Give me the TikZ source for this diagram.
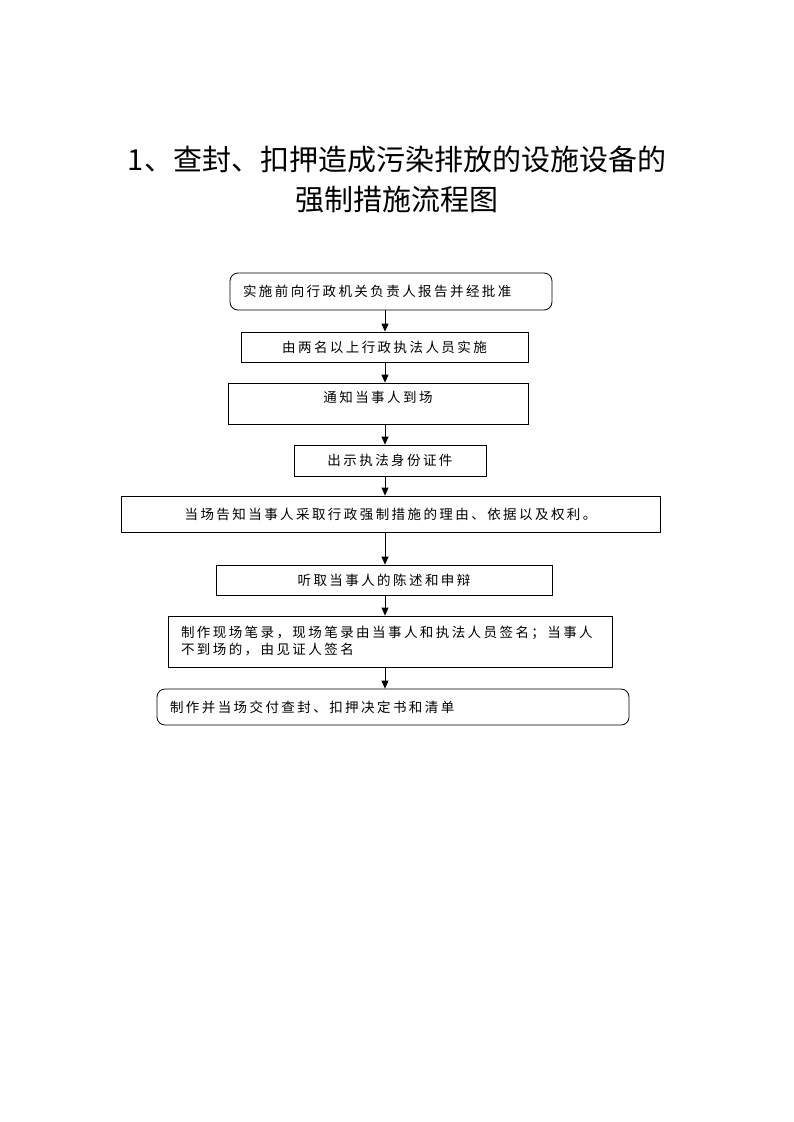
\documentclass[tikz,border=0pt]{standalone}
\usepackage{fontspec}
\usetikzlibrary{arrows.meta}
\newfontfamily\cjktitle{Noto Sans CJK SC}
\newfontfamily\cjkbox{Noto Sans CJK SC}[LetterSpace=18]
\begin{document}
\begin{tikzpicture}[x=1pt,y=-1pt,
  box/.style={draw,line width=0.8pt,inner sep=0pt,font=\cjkbox\fontsize{13.5}{17}\selectfont,anchor=center},
  rbox/.style={box,rounded corners=8pt},
  lefttext/.style={align=left,inner xsep=13pt},
  arr/.style={line width=0.8pt,-{Triangle[length=8pt,width=7pt]}}]
\useasboundingbox (0,0) rectangle (793,1122);
\node[font=\cjktitle\fontsize{29}{40}\selectfont,align=center] (title) at (397,180)
  {1、查封、扣押造成污染排放的设施设备的\\强制措施流程图};
\coordinate (ax) at (385,0);
\node[rbox,lefttext,text width=296pt,minimum height=37pt] (b1) at (391,291.5) {实施前向行政机关负责人报告并经批准};
\node[box,minimum width=287pt,minimum height=30pt] (b2) at (384.5,347) {由两名以上行政执法人员实施};
\node[box,minimum width=300pt,minimum height=41pt,text depth=13pt] (b3) at (378,403.5) {通知当事人到场};
\node[box,minimum width=192pt,minimum height=31pt] (b4) at (390,460.5) {出示执法身份证件};
\node[box,minimum width=539pt,minimum height=36pt] (b5) at (390.5,514) {当场告知当事人采取行政强制措施的理由、依据以及权利。};
\node[box,minimum width=336pt,minimum height=30pt] (b6) at (384,580) {听取当事人的陈述和申辩};
\node[box,lefttext,text width=418pt,minimum height=51pt] (b7) at (390,641.5) {制作现场笔录，现场笔录由当事人和执法人员签名；当事人\\不到场的，由见证人签名};
\node[rbox,lefttext,text width=446pt,minimum height=36pt] (b8) at (393,707) {制作并当场交付查封、扣押决定书和清单};
\foreach \a/\b in {b1/b2,b2/b3,b3/b4,b4/b5,b5/b6,b6/b7,b7/b8}
  \draw[arr] (\a.south -| ax) -- (\b.north -| ax);
\end{tikzpicture}
\end{document}
